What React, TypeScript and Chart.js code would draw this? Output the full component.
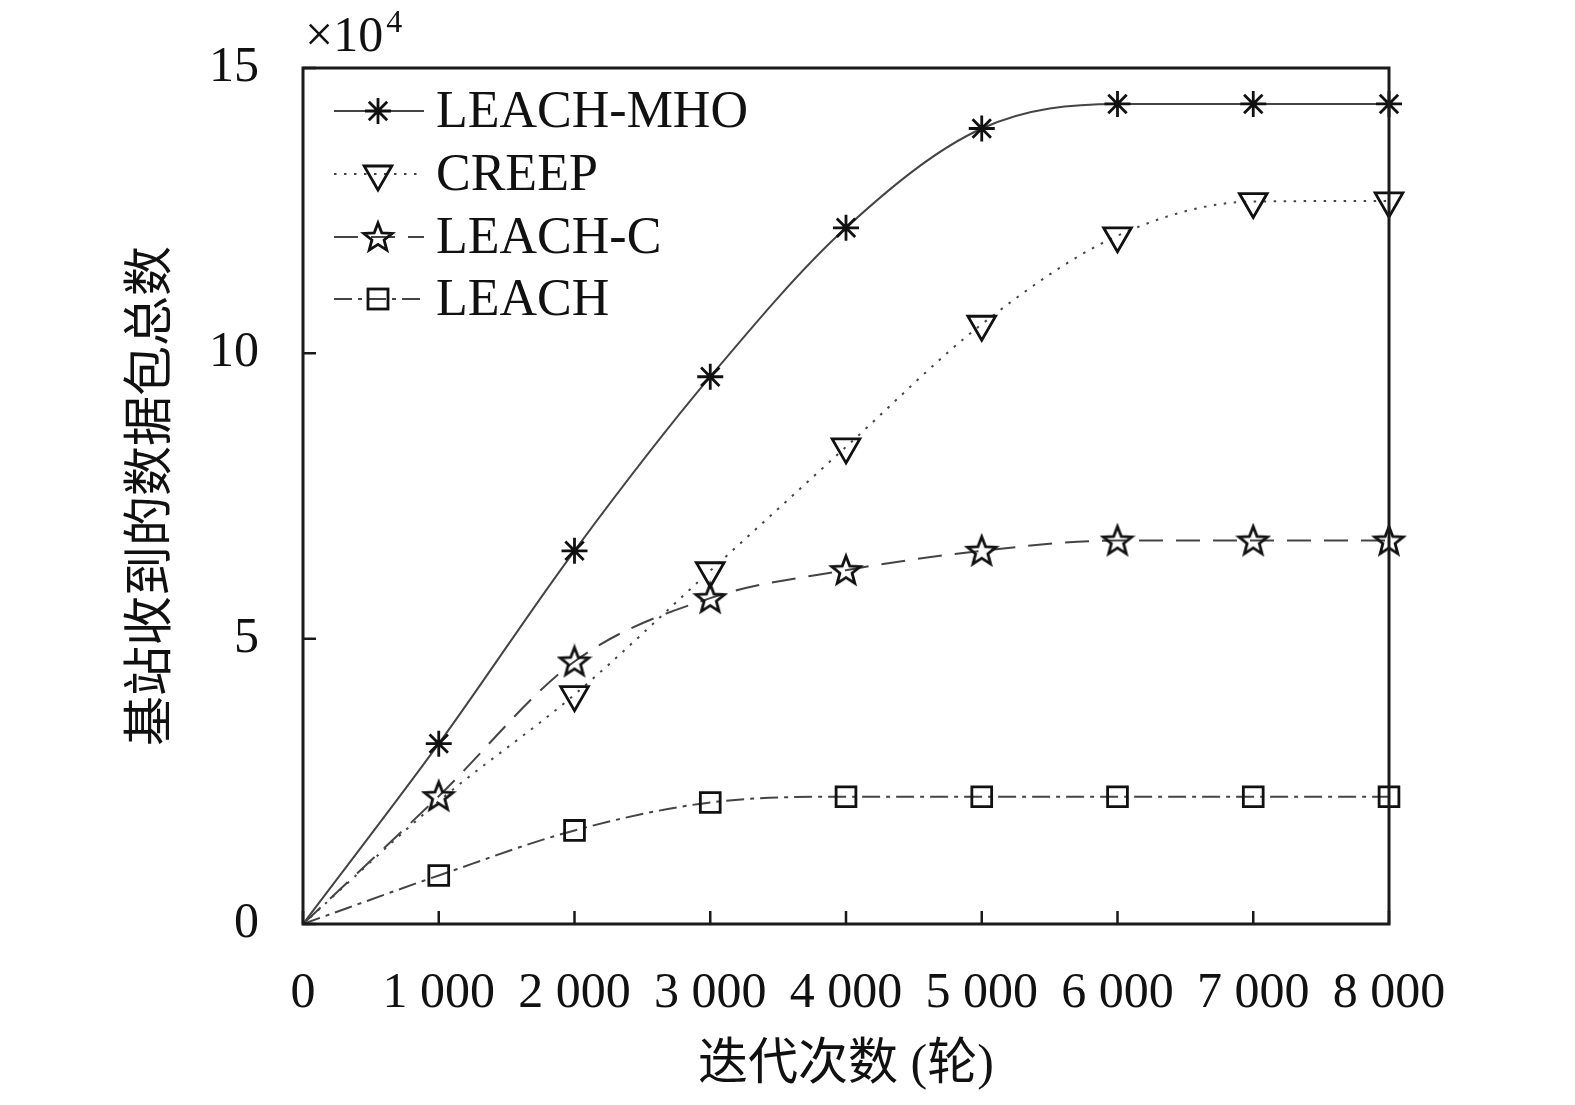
import React, { useEffect, useRef } from 'react';
import { Chart, registerables } from 'chart.js';

Chart.register(...registerables);

// ---- data ----
const rounds = [0, 1000, 2000, 3000, 4000, 5000, 6000, 7000, 8000];
const leachMho = [0, 3.16, 6.54, 9.59, 12.2, 13.94, 14.37, 14.37, 14.37];
const creep = [0, 2.15, 4.02, 6.19, 8.36, 10.51, 12.06, 12.66, 12.67];
const leachC = [0, 2.24, 4.6, 5.71, 6.2, 6.54, 6.72, 6.72, 6.72];
const leach = [0, 0.85, 1.64, 2.13, 2.23, 2.23, 2.23, 2.23, 2.23];
const yTicks = [0, 5, 10, 15];
const seriesNames = ['LEACH-MHO', 'CREEP', 'LEACH-C', 'LEACH'];
const xTitle = '迭代次数 (轮)';
const yTitle = '基站收到的数据包总数';

const SERIF = "'Liberation Serif', 'Noto Sans CJK SC', serif";
const CJK = "'Liberation Serif', 'Noto Sans CJK SC', sans-serif";
const MARK = '#111';
const LINE = '#444';

function makeStarImage(): HTMLCanvasElement {
  const c = document.createElement('canvas');
  c.width = 36;
  c.height = 36;
  const ctx = c.getContext('2d')!;
  const cx = 18, cy = 19, ro = 15, ri = 6.4;
  ctx.beginPath();
  for (let i = 0; i < 10; i++) {
    const r = i % 2 === 0 ? ro : ri;
    const a = -Math.PI / 2 + (i * Math.PI) / 5;
    const x = cx + r * Math.cos(a);
    const y = cy + r * Math.sin(a);
    if (i === 0) ctx.moveTo(x, y);
    else ctx.lineTo(x, y);
  }
  ctx.closePath();
  ctx.lineWidth = 2.8;
  ctx.strokeStyle = MARK;
  ctx.lineJoin = 'miter';
  ctx.stroke();
  return c;
}

function radii(n: number, r: number, hidden: number[] = []) {
  return Array.from({ length: n }, (_, i) => (i === 0 || hidden.includes(i) ? 0 : r));
}

export default function App() {
  const ref = useRef<HTMLCanvasElement | null>(null);

  useEffect(() => {
    document.body.style.margin = '0';
    const starImg = makeStarImage();
    const dashes = [[], [2.5, 7.5], [24, 13], [18, 6, 4, 6]];

    const drawMarker = (ctx: CanvasRenderingContext2D, i: number, x: number, y: number) => {
      ctx.save();
      ctx.setLineDash([]);
      ctx.strokeStyle = MARK;
      ctx.lineWidth = 2.8;
      if (i === 0) {
        const r = 13;
        ctx.beginPath();
        for (let k = 0; k < 4; k++) {
          const a = (k * Math.PI) / 4;
          ctx.moveTo(x - r * Math.cos(a), y - r * Math.sin(a));
          ctx.lineTo(x + r * Math.cos(a), y + r * Math.sin(a));
        }
        ctx.stroke();
      } else if (i === 1) {
        const r = 16;
        ctx.beginPath();
        for (let k = 0; k < 3; k++) {
          const a = Math.PI / 2 + (k * 2 * Math.PI) / 3;
          const px = x + r * Math.cos(a);
          const py = y + r * Math.sin(a);
          if (k === 0) ctx.moveTo(px, py);
          else ctx.lineTo(px, py);
        }
        ctx.closePath();
        ctx.stroke();
      } else if (i === 2) {
        ctx.drawImage(starImg, x - 18, y - 18);
      } else {
        ctx.strokeRect(x - 10, y - 10, 20, 20);
      }
      ctx.restore();
    };

    const decor = {
      id: 'decor',
      afterDraw(chart: any) {
        const ctx: CanvasRenderingContext2D = chart.ctx;
        const { left, right, top, bottom } = chart.chartArea;
        const xs = chart.scales.x;
        const ys = chart.scales.y;
        ctx.save();
        // frame
        ctx.strokeStyle = '#1a1a1a';
        ctx.lineWidth = 3;
        ctx.setLineDash([]);
        ctx.strokeRect(left, top, right - left, bottom - top);
        // inward ticks
        ctx.lineWidth = 2.5;
        ctx.beginPath();
        xs.ticks.forEach((t: any) => {
          const px = xs.getPixelForValue(t.value);
          ctx.moveTo(px, bottom);
          ctx.lineTo(px, bottom - 13);
        });
        ys.ticks.forEach((t: any) => {
          const py = ys.getPixelForValue(t.value);
          ctx.moveTo(left, py);
          ctx.lineTo(left + 13, py);
        });
        ctx.stroke();

        // titles
        ctx.fillStyle = '#111';
        ctx.textAlign = 'center';
        ctx.textBaseline = 'middle';
        ctx.font = `50px ${CJK}`;
        ctx.fillText(xTitle, (left + right) / 2, 1066);
        ctx.save();
        ctx.translate(153, (top + bottom) / 2);
        ctx.rotate(-Math.PI / 2);
        ctx.fillText(yTitle, 0, 0);
        ctx.restore();

        // multiplier
        ctx.textAlign = 'left';
        ctx.textBaseline = 'alphabetic';
        ctx.font = `50px ${SERIF}`;
        ctx.fillText('×10', 305, 51);
        const w = ctx.measureText('×10').width;
        ctx.font = `32px ${SERIF}`;
        ctx.fillText('4', 305 + w + 3, 32);

        // legend
        const rowY = [111, 174, 237, 299];
        seriesNames.forEach((name, i) => {
          const y = rowY[i];
          ctx.save();
          ctx.strokeStyle = LINE;
          ctx.lineWidth = 2;
          ctx.setLineDash(dashes[i]);
          ctx.beginPath();
          ctx.moveTo(334, y);
          ctx.lineTo(424, y);
          ctx.stroke();
          ctx.restore();
          drawMarker(ctx, i, 378, y);
          ctx.fillStyle = '#111';
          ctx.font = `52px ${SERIF}`;
          ctx.textAlign = 'left';
          ctx.textBaseline = 'middle';
          ctx.fillText(name, 436, y + 2);
        });
        ctx.restore();
      },
    };

    const n = rounds.length;
    const mk = (vals: number[]) => rounds.map((x, i) => ({ x, y: vals[i] }));
    const base = {
      borderColor: LINE,
      borderWidth: 2,
      backgroundColor: 'transparent',
      pointBackgroundColor: 'transparent',
      pointBorderColor: MARK,
      pointBorderWidth: 2.8,
      cubicInterpolationMode: 'monotone' as const,
      fill: false,
      clip: false as any,
    };

    const chart = new Chart(ref.current!, {
      type: 'line',
      data: {
        datasets: [
          {
            ...base,
            label: seriesNames[3],
            data: mk(leach),
            borderDash: dashes[3],
            pointStyle: 'rect',
            pointRadius: radii(n, 14),
          },
          {
            ...base,
            label: seriesNames[2],
            data: mk(leachC),
            borderDash: dashes[2],
            pointStyle: starImg as any,
            pointRadius: radii(n, 15),
          },
          {
            ...base,
            label: seriesNames[1],
            data: mk(creep),
            borderDash: dashes[1],
            pointStyle: 'triangle',
            pointRotation: 180,
            pointRadius: radii(n, 16, [1]),
          },
          {
            ...base,
            label: seriesNames[0],
            data: mk(leachMho),
            pointStyle: 'star',
            pointRadius: radii(n, 13),
          },
        ],
      },
      options: {
        animation: false,
        responsive: false,
        maintainAspectRatio: false,
        devicePixelRatio: 1,
        layout: { autoPadding: false, padding: { left: 0, top: 68, right: 186, bottom: 0 } },
        plugins: { legend: { display: false }, tooltip: { enabled: false }, title: { display: false } },
        scales: {
          x: {
            type: 'linear',
            min: 0,
            max: 8000,
            grid: { display: false, drawTicks: false },
            border: { display: false },
            afterFit: (s: any) => {
              s.height = 181;
              s.paddingLeft = 0;
              s.paddingRight = 0;
              s.paddingTop = 0;
              s.paddingBottom = 0;
            },
            afterBuildTicks: (s: any) => {
              s.ticks = rounds.map((v) => ({ value: v }));
            },
            ticks: {
              padding: 40,
              maxRotation: 0,
              autoSkip: false,
              color: '#111',
              font: { family: SERIF, size: 50 },
              callback: (v: any) => {
                const num = Number(v);
                if (num < 1000) return String(num);
                const th = Math.floor(num / 1000);
                const rest = String(num % 1000).padStart(3, '0');
                return `${th} ${rest}`;
              },
            },
          },
          y: {
            type: 'linear',
            min: 0,
            max: 15,
            grid: { display: false, drawTicks: false },
            border: { display: false },
            afterFit: (s: any) => {
              s.width = 303;
              s.paddingLeft = 0;
              s.paddingRight = 0;
              s.paddingTop = 0;
              s.paddingBottom = 0;
            },
            afterBuildTicks: (s: any) => {
              s.ticks = yTicks.map((v) => ({ value: v }));
            },
            ticks: {
              padding: 44,
              color: '#111',
              font: { family: SERIF, size: 50 },
            },
          },
        },
      },
      plugins: [decor],
    });

    return () => chart.destroy();
  }, []);

  return (
    <div style={{ position: 'absolute', left: 0, top: 0, width: 1575, height: 1105, background: '#fff' }}>
      <canvas ref={ref} width={1575} height={1105} style={{ width: 1575, height: 1105, display: 'block' }} />
    </div>
  );
}
